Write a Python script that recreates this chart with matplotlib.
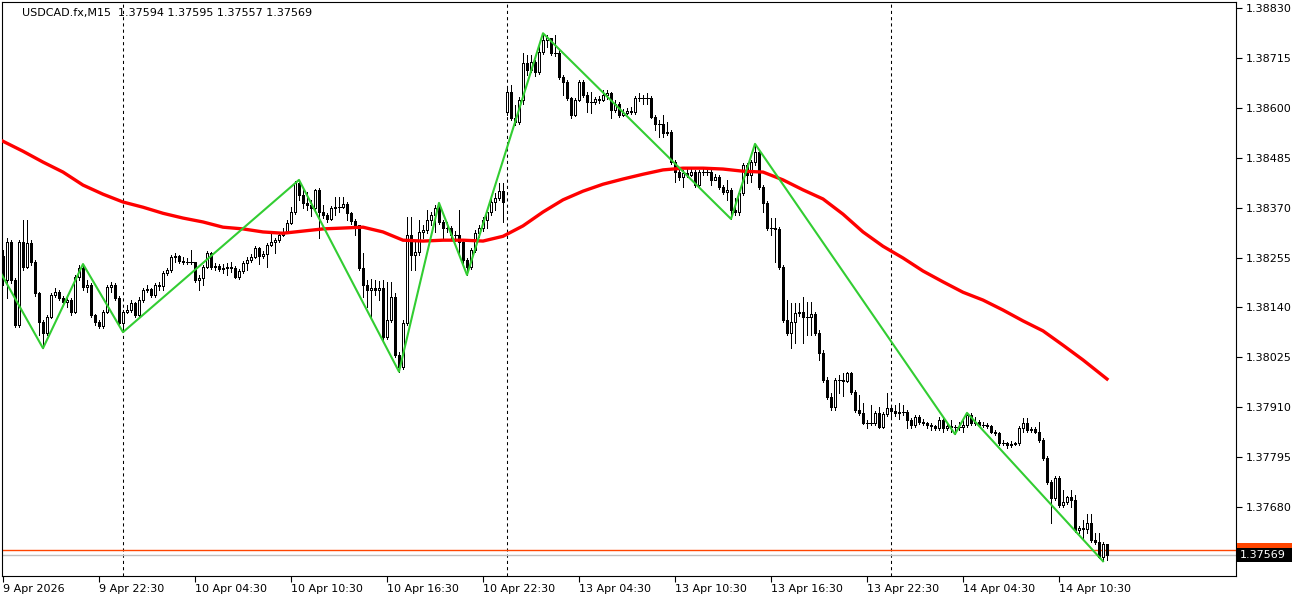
import matplotlib
matplotlib.use("Agg")
import matplotlib.pyplot as plt
import matplotlib.transforms as mtransforms
from matplotlib.patches import Rectangle
import numpy as np

symbol = "USDCAD.fx,M15"

# M15 bars from 9 Apr 16:30 to 14 Apr 13:30 (bar index = position on the chart)
first_open = 1.38258
gap_opens = {126: 1.38590}  # weekend gap, Monday open

closes = [
    1.38203, 1.38291, 1.38203, 1.38099, 1.38291, 1.38233, 1.38288, 1.38245, 1.38173, 1.38106,
    1.38081, 1.38118, 1.38169, 1.38175, 1.38162, 1.38152, 1.38157, 1.38129, 1.38210, 1.38231,
    1.38187, 1.38192, 1.38122, 1.38106, 1.38097, 1.38129, 1.38187, 1.38192, 1.38162, 1.38104,
    1.38129, 1.38134, 1.38150, 1.38122, 1.38157, 1.38180, 1.38182, 1.38169, 1.38192, 1.38189,
    1.38219, 1.38226, 1.38256, 1.38258, 1.38247, 1.38245, 1.38245, 1.38245, 1.38203, 1.38208,
    1.38233, 1.38265, 1.38233, 1.38235, 1.38228, 1.38231, 1.38233, 1.38231, 1.38210, 1.38224,
    1.38242, 1.38249, 1.38256, 1.38277, 1.38258, 1.38263, 1.38284, 1.38291, 1.38295, 1.38307,
    1.38314, 1.38334, 1.38360, 1.38427, 1.38399, 1.38381, 1.38376, 1.38369, 1.38411, 1.38360,
    1.38353, 1.38344, 1.38369, 1.38371, 1.38371, 1.38378, 1.38357, 1.38339, 1.38330, 1.38231,
    1.38192, 1.38180, 1.38185, 1.38180, 1.38185, 1.38072, 1.38111, 1.38164, 1.38030, 1.38003,
    1.38104, 1.38307, 1.38261, 1.38268, 1.38314, 1.38318, 1.38341, 1.38353, 1.38369, 1.38337,
    1.38323, 1.38323, 1.38307, 1.38307, 1.38291, 1.38249, 1.38233, 1.38272, 1.38311, 1.38323,
    1.38341, 1.38360, 1.38383, 1.38392, 1.38408, 1.38383, 1.38636, 1.38576, 1.38567, 1.38618,
    1.38703, 1.38687, 1.38706, 1.38682, 1.38729, 1.38756, 1.38761, 1.38726, 1.38726, 1.38671,
    1.38659, 1.38623, 1.38583, 1.38618, 1.38659, 1.38629, 1.38613, 1.38613, 1.38620, 1.38618,
    1.38629, 1.38634, 1.38595, 1.38609, 1.38583, 1.38588, 1.38592, 1.38590, 1.38623, 1.38623,
    1.38623, 1.38623, 1.38579, 1.38563, 1.38563, 1.38542, 1.38544, 1.38475, 1.38452, 1.38440,
    1.38450, 1.38445, 1.38452, 1.38422, 1.38452, 1.38452, 1.38452, 1.38434, 1.38440, 1.38417,
    1.38406, 1.38411, 1.38364, 1.38360, 1.38404, 1.38468, 1.38445, 1.38475, 1.38498, 1.38417,
    1.38381, 1.38323, 1.38323, 1.38321, 1.38233, 1.38111, 1.38081, 1.38106, 1.38127, 1.38129,
    1.38118, 1.38118, 1.38125, 1.38081, 1.38035, 1.37973, 1.37934, 1.37910, 1.37973, 1.37973,
    1.37970, 1.37989, 1.37945, 1.37904, 1.37897, 1.37874, 1.37874, 1.37874, 1.37897, 1.37864,
    1.37894, 1.37908, 1.37901, 1.37897, 1.37899, 1.37899, 1.37881, 1.37869, 1.37887, 1.37876,
    1.37874, 1.37869, 1.37867, 1.37862, 1.37881, 1.37862, 1.37867, 1.37864, 1.37864, 1.37864,
    1.37869, 1.37892, 1.37874, 1.37876, 1.37869, 1.37869, 1.37867, 1.37853, 1.37851, 1.37827,
    1.37827, 1.37823, 1.37825, 1.37827, 1.37862, 1.37874, 1.37858, 1.37860, 1.37853, 1.37834,
    1.37793, 1.37738, 1.37701, 1.37747, 1.37685, 1.37691, 1.37703, 1.37696, 1.37627, 1.37632,
    1.37629, 1.37643, 1.37604, 1.37599, 1.37565, 1.37594, 1.37569,
]

highs = [
    1.38272, 1.38300, 1.38295, 1.38208, 1.38295, 1.38341, 1.38341, 1.38295, 1.38249, 1.38175,
    1.38111, 1.38122, 1.38173, 1.38185, 1.38180, 1.38166, 1.38164, 1.38162, 1.38215, 1.38238,
    1.38240, 1.38203, 1.38196, 1.38125, 1.38111, 1.38134, 1.38192, 1.38199, 1.38196, 1.38166,
    1.38134, 1.38146, 1.38157, 1.38152, 1.38164, 1.38185, 1.38192, 1.38185, 1.38196, 1.38199,
    1.38224, 1.38231, 1.38261, 1.38265, 1.38261, 1.38256, 1.38254, 1.38272, 1.38245, 1.38215,
    1.38238, 1.38270, 1.38268, 1.38242, 1.38240, 1.38240, 1.38242, 1.38245, 1.38235, 1.38228,
    1.38247, 1.38256, 1.38263, 1.38281, 1.38279, 1.38270, 1.38288, 1.38309, 1.38300, 1.38311,
    1.38323, 1.38341, 1.38371, 1.38431, 1.38434, 1.38411, 1.38406, 1.38388, 1.38413, 1.38415,
    1.38376, 1.38357, 1.38374, 1.38394, 1.38394, 1.38394, 1.38383, 1.38360, 1.38344, 1.38330,
    1.38265, 1.38203, 1.38205, 1.38203, 1.38201, 1.38203, 1.38199, 1.38199, 1.38173, 1.38037,
    1.38111, 1.38348, 1.38348, 1.38295, 1.38341, 1.38330, 1.38364, 1.38360, 1.38376, 1.38381,
    1.38341, 1.38337, 1.38328, 1.38316, 1.38364, 1.38295, 1.38254, 1.38277, 1.38318, 1.38330,
    1.38348, 1.38367, 1.38390, 1.38404, 1.38427, 1.38427, 1.38646, 1.38652, 1.38606, 1.38625,
    1.38726, 1.38722, 1.38722, 1.38710, 1.38745, 1.38772, 1.38768, 1.38761, 1.38768, 1.38733,
    1.38676, 1.38664, 1.38625, 1.38623, 1.38664, 1.38664, 1.38636, 1.38636, 1.38625, 1.38627,
    1.38641, 1.38641, 1.38636, 1.38618, 1.38613, 1.38597, 1.38599, 1.38602, 1.38627, 1.38634,
    1.38629, 1.38634, 1.38627, 1.38583, 1.38572, 1.38583, 1.38567, 1.38549, 1.38480, 1.38457,
    1.38457, 1.38461, 1.38459, 1.38457, 1.38457, 1.38464, 1.38459, 1.38457, 1.38448, 1.38445,
    1.38422, 1.38434, 1.38415, 1.38392, 1.38408, 1.38473, 1.38473, 1.38480, 1.38517, 1.38503,
    1.38422, 1.38385, 1.38346, 1.38346, 1.38325, 1.38238, 1.38157, 1.38150, 1.38150, 1.38150,
    1.38164, 1.38152, 1.38152, 1.38129, 1.38088, 1.38042, 1.37980, 1.37943, 1.37977, 1.37985,
    1.37989, 1.37991, 1.37991, 1.37950, 1.37938, 1.37920, 1.37881, 1.37915, 1.37901, 1.37910,
    1.37899, 1.37943, 1.37915, 1.37915, 1.37920, 1.37915, 1.37904, 1.37885, 1.37892, 1.37892,
    1.37883, 1.37876, 1.37874, 1.37869, 1.37887, 1.37885, 1.37871, 1.37881, 1.37869, 1.37876,
    1.37881, 1.37897, 1.37897, 1.37887, 1.37881, 1.37876, 1.37874, 1.37869, 1.37858, 1.37853,
    1.37834, 1.37830, 1.37832, 1.37830, 1.37867, 1.37885, 1.37885, 1.37864, 1.37864, 1.37876,
    1.37839, 1.37797, 1.37742, 1.37752, 1.37752, 1.37719, 1.37705, 1.37719, 1.37708, 1.37636,
    1.37650, 1.37664, 1.37664, 1.37620, 1.37620, 1.37599, 1.37595,
]

lows = [
    1.38192, 1.38162, 1.38196, 1.38095, 1.38095, 1.38226, 1.38231, 1.38238, 1.38166, 1.38076,
    1.38046, 1.38076, 1.38116, 1.38164, 1.38157, 1.38146, 1.38141, 1.38122, 1.38127, 1.38203,
    1.38180, 1.38175, 1.38118, 1.38099, 1.38092, 1.38092, 1.38127, 1.38175, 1.38157, 1.38099,
    1.38083, 1.38127, 1.38129, 1.38118, 1.38118, 1.38152, 1.38175, 1.38164, 1.38164, 1.38180,
    1.38180, 1.38215, 1.38221, 1.38245, 1.38242, 1.38240, 1.38240, 1.38240, 1.38199, 1.38180,
    1.38192, 1.38231, 1.38228, 1.38226, 1.38224, 1.38219, 1.38215, 1.38221, 1.38208, 1.38205,
    1.38219, 1.38226, 1.38245, 1.38254, 1.38240, 1.38254, 1.38233, 1.38281, 1.38265, 1.38291,
    1.38304, 1.38311, 1.38332, 1.38355, 1.38388, 1.38369, 1.38364, 1.38350, 1.38364, 1.38300,
    1.38346, 1.38337, 1.38341, 1.38353, 1.38360, 1.38369, 1.38341, 1.38332, 1.38307, 1.38226,
    1.38164, 1.38141, 1.38118, 1.38169, 1.38157, 1.38065, 1.38067, 1.38106, 1.38026, 1.37992,
    1.37998, 1.38099, 1.38226, 1.38226, 1.38261, 1.38300, 1.38311, 1.38330, 1.38314, 1.38332,
    1.38295, 1.38314, 1.38295, 1.38293, 1.38261, 1.38242, 1.38215, 1.38228, 1.38268, 1.38302,
    1.38316, 1.38323, 1.38353, 1.38364, 1.38388, 1.38337, 1.38583, 1.38572, 1.38560, 1.38563,
    1.38609, 1.38675, 1.38682, 1.38673, 1.38678, 1.38724, 1.38740, 1.38722, 1.38719, 1.38666,
    1.38629, 1.38618, 1.38576, 1.38581, 1.38615, 1.38625, 1.38590, 1.38588, 1.38609, 1.38611,
    1.38615, 1.38620, 1.38576, 1.38590, 1.38579, 1.38581, 1.38586, 1.38586, 1.38586, 1.38615,
    1.38609, 1.38609, 1.38576, 1.38549, 1.38533, 1.38533, 1.38537, 1.38471, 1.38429, 1.38434,
    1.38417, 1.38440, 1.38443, 1.38417, 1.38420, 1.38445, 1.38445, 1.38422, 1.38434, 1.38413,
    1.38401, 1.38388, 1.38344, 1.38353, 1.38353, 1.38399, 1.38427, 1.38429, 1.38468, 1.38413,
    1.38360, 1.38318, 1.38307, 1.38245, 1.38228, 1.38106, 1.38076, 1.38046, 1.38058, 1.38120,
    1.38058, 1.38076, 1.38076, 1.38076, 1.38019, 1.37968, 1.37929, 1.37904, 1.37904, 1.37943,
    1.37936, 1.37968, 1.37941, 1.37899, 1.37892, 1.37871, 1.37862, 1.37869, 1.37869, 1.37862,
    1.37862, 1.37890, 1.37885, 1.37890, 1.37883, 1.37892, 1.37862, 1.37862, 1.37864, 1.37871,
    1.37869, 1.37862, 1.37858, 1.37858, 1.37858, 1.37853, 1.37858, 1.37853, 1.37848, 1.37858,
    1.37853, 1.37864, 1.37869, 1.37869, 1.37867, 1.37864, 1.37862, 1.37851, 1.37846, 1.37823,
    1.37823, 1.37816, 1.37818, 1.37823, 1.37823, 1.37853, 1.37853, 1.37853, 1.37851, 1.37830,
    1.37788, 1.37733, 1.37643, 1.37696, 1.37680, 1.37680, 1.37687, 1.37680, 1.37622, 1.37620,
    1.37604, 1.37620, 1.37599, 1.37594, 1.37562, 1.37555, 1.37557,
]

# moving average (red), sampled every 5 bars
ma_idx = [0, 5, 10, 15, 20, 25, 30, 35, 40, 45, 50, 55, 60, 65, 70, 75, 80, 85, 90, 95,
          100, 105, 110, 115, 120, 125, 130, 135, 140, 145, 150, 155, 160, 165, 170, 175,
          180, 185, 190, 195, 200, 205, 210, 215, 220, 225, 230, 235, 240, 245, 250, 255,
          260, 265, 270, 276]
ma_vals = [1.38523, 1.38500, 1.38475, 1.38452, 1.38422, 1.38401, 1.38383, 1.38371, 1.38357, 1.38346,
           1.38337, 1.38325, 1.38321, 1.38314, 1.38311, 1.38316, 1.38321, 1.38323, 1.38325, 1.38314,
           1.38295, 1.38293, 1.38295, 1.38295, 1.38293, 1.38304, 1.38328, 1.38360, 1.38388, 1.38408,
           1.38424, 1.38436, 1.38447, 1.38457, 1.38461, 1.38461, 1.38459, 1.38454, 1.38452, 1.38434,
           1.38411, 1.38390, 1.38355, 1.38314, 1.38281, 1.38254, 1.38224, 1.38199, 1.38175, 1.38157,
           1.38134, 1.38109, 1.38086, 1.38053, 1.38019, 1.37975]

# zigzag vertices (green)
zz_idx = [-4, 10, 20, 30, 74, 99, 109, 116, 135, 182, 188, 238, 241, 275]
zz_vals = [1.38276, 1.38046, 1.38240, 1.38083, 1.38434, 1.37992, 1.38381, 1.38215,
           1.38772, 1.38344, 1.38517, 1.37848, 1.37897, 1.37555]

date_idx = [0, 24, 48, 72, 96, 120, 144, 168, 192, 216, 240, 264]
date_labels = ["9 Apr 2026", "9 Apr 22:30", "10 Apr 04:30", "10 Apr 10:30", "10 Apr 16:30",
               "10 Apr 22:30", "13 Apr 04:30", "13 Apr 10:30", "13 Apr 16:30", "13 Apr 22:30",
               "14 Apr 04:30", "14 Apr 10:30"]
day_separators = [30, 126, 222]

price_ticks = [1.38830, 1.38715, 1.38600, 1.38485, 1.38370, 1.38255,
               1.38140, 1.38025, 1.37910, 1.37795, 1.37680]
bid = 1.37569
ask = 1.37581

# ---------------------------------------------------------------
o = np.array([first_open] + closes[:-1])
for k, v in gap_opens.items():
    o[k] = v
c = np.array(closes)
h = np.array(highs)
l = np.array(lows)
x = np.arange(len(c))

W, H = 1300, 600
fig = plt.figure(figsize=(W / 100, H / 100), dpi=100)
fig.patch.set_facecolor("white")
ax = fig.add_axes([2 / W, 24 / H, 1234 / W, 574 / H])
ax.set_xlim(-0.25, 308.25)
ax.set_ylim(1.37521, 1.38844)

for s in day_separators:
    ax.axvline(s, color="black", lw=0.75, ls=(0, (3, 3)), zorder=1)

ax.axhline(ask, color="#ff4500", lw=1.0, zorder=1)
ax.axhline(bid, color="#c0c0c0", lw=1.0, zorder=1)

# candles: 3 px bodies on a 4 px step
bw = 0.5
ax.vlines(x, l, h, color="black", lw=0.72, zorder=2, antialiased=False)
up = c > o
dn = c < o
dj = c == o
ax.bar(x[up], (c - o)[up], bottom=o[up], width=bw, color="white",
       edgecolor="black", linewidth=0.72, zorder=3, antialiased=False)
ax.bar(x[dn], (o - c)[dn], bottom=c[dn], width=bw, color="black",
       edgecolor="black", linewidth=0.72, zorder=3, antialiased=False)
ax.hlines(c[dj], x[dj] - 0.375, x[dj] + 0.375, color="black", lw=0.72,
          zorder=3, antialiased=False)

ax.plot(ma_idx, ma_vals, color="#ff0000", lw=2.4, zorder=4)
ax.plot(zz_idx, zz_vals, color="#32cd32", lw=1.5, zorder=5)

# axes
ax.yaxis.tick_right()
ax.set_yticks(price_ticks)
ax.set_yticklabels([f"{p:.5f}" for p in price_ticks])
ax.set_xticks(date_idx)
ax.set_xticklabels(date_labels)
for lbl in ax.get_xticklabels():
    lbl.set_horizontalalignment("left")
ax.tick_params(axis="y", direction="out", length=4, width=0.8, labelsize=8, pad=3, colors="black")
ax.tick_params(axis="x", direction="out", length=4, width=0.8, labelsize=8, pad=2, colors="black")
for sp in ax.spines.values():
    sp.set_color("black")
    sp.set_linewidth(0.8)

# price labels: ask box (mostly hidden) behind the bid box
blend = mtransforms.blended_transform_factory(ax.transAxes, ax.transData)
px_x = 1 / 1234
px_y = (1.38844 - 1.37521) / 574
ax.add_patch(Rectangle((1 + px_x, ask - 7 * px_y), 55 * px_x, 14 * px_y,
                       transform=blend, clip_on=False, fc="#ff4500", ec="none", zorder=6))
ax.add_patch(Rectangle((1 + px_x, bid - 7 * px_y), 55 * px_x, 14 * px_y,
                       transform=blend, clip_on=False, fc="black", ec="none", zorder=7))
trans = mtransforms.offset_copy(blend, fig=fig, x=4, y=0, units="dots")
ax.text(1.0, bid, f"{bid:.5f}", transform=trans, ha="left", va="center", fontsize=8,
        color="white", zorder=8, clip_on=False)

# header
fig.text(22 / W, 1 - 13 / H, f"{symbol}  {o[-1]:.5f} {h[-1]:.5f} {l[-1]:.5f} {c[-1]:.5f}",
         fontsize=8, ha="left", va="center", color="black")

fig.savefig("out.png", dpi=100)
